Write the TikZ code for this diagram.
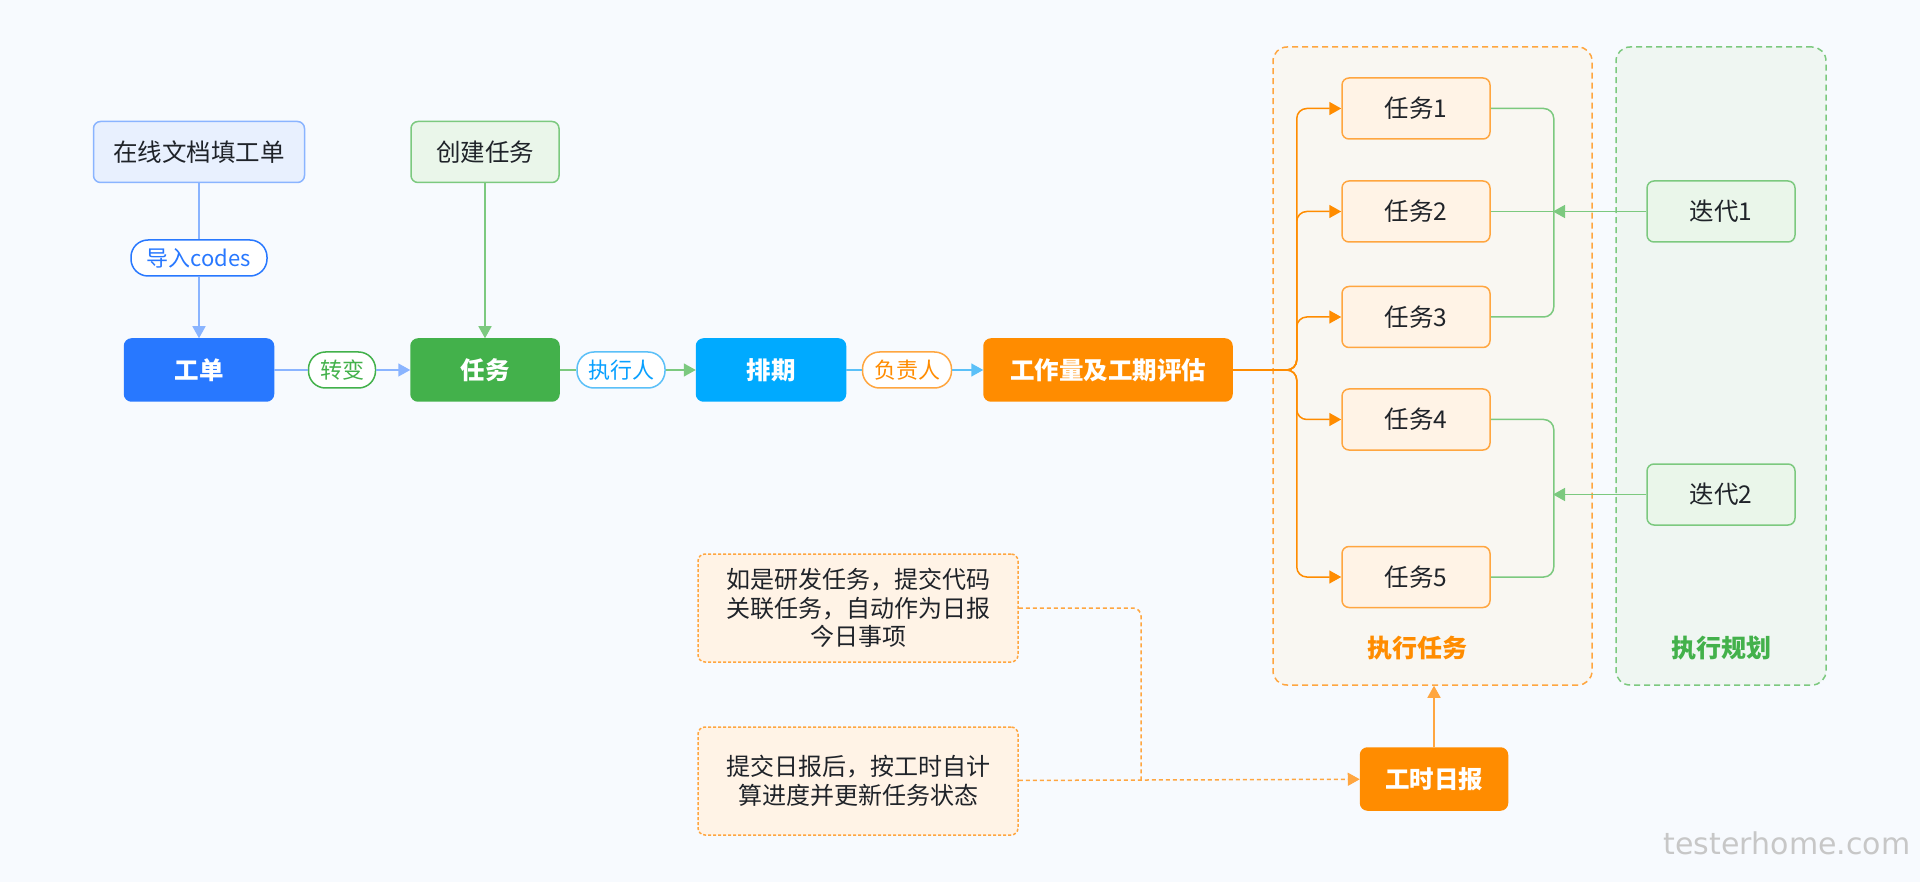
\documentclass[tikz,border=0pt]{standalone}
\usepackage{fontspec}
\setmainfont{Noto Sans CJK SC}
\newfontfamily\markfont{DejaVu Sans}
\usetikzlibrary{arrows.meta,positioning}

\definecolor{paper}{HTML}{F7FAFE}
\definecolor{ink}{HTML}{1F2329}
\definecolor{blueA}{HTML}{2878FF}
\definecolor{blueL}{HTML}{8AB4FF}
\definecolor{blueF}{HTML}{E8F0FE}
\definecolor{greenA}{HTML}{43B14B}
\definecolor{greenL}{HTML}{7CC97F}
\definecolor{greenF}{HTML}{EAF6EA}
\definecolor{skyA}{HTML}{00AAFF}
\definecolor{skyL}{HTML}{5BC0F8}
\definecolor{orangeA}{HTML}{FF8C00}
\definecolor{orangeL}{HTML}{FFA640}
\definecolor{orangeF}{HTML}{FFF3E6}
\definecolor{runfill}{HTML}{F9F7F2}
\definecolor{planfill}{HTML}{EFF6F2}

\tikzset{
  box/.style={rounded corners=7pt, minimum width=148pt, minimum height=61pt,
    inner sep=0pt, line width=1.5pt, text=ink, font=\fontsize{24.5}{28}\selectfont},
  solidbox/.style={box, fill=#1, draw=#1, text=white,
    font=\fontsize{24.5}{28}\selectfont\bfseries},
  lightbox/.style 2 args={box, fill=#1, draw=#2},
  pill/.style={rounded corners=17pt, minimum height=36pt, inner sep=0pt,
    line width=1.5pt, fill=white, draw=#1, text=#1, font=\fontsize{22}{26}\selectfont},
  link/.style={line width=1.5pt, draw=#1},
  tip/.style={-{Triangle[length=12pt,width=13pt]}},
  note/.style={box, fill=orangeF, draw=orangeL, dash pattern=on 3pt off 2pt,
    minimum width=320pt, minimum height=108pt, align=center,
    font=\fontsize{24}{28.5}\selectfont},
  group/.style={rounded corners=14pt, line width=1.5pt, dash pattern=on 6pt off 4pt,
    minimum height=638pt, inner sep=0pt}
}

\begin{document}
\begin{tikzpicture}[x=1pt,y=-1pt]
  \useasboundingbox[fill=paper] (0,0) rectangle (1920,882);

  % groups behind everything
  \node (runbox) [group, draw=orangeL, fill=runfill, minimum width=319pt] at (1432.5,366) {};
  \node (planbox) [group, draw=greenL, fill=planfill, minimum width=210pt] at (1721,366) {};
  \node (runlbl) [text=orangeA, font=\fontsize{25}{28}\selectfont\bfseries] at (1417,648) {执行任务};
  \node (planlbl) [text=greenA, font=\fontsize{25}{28}\selectfont\bfseries] at (1721,648) {执行规划};

  % main row
  \node (doc) [lightbox={blueF}{blueL}, minimum width=211pt] at (199,152) {在线文档填工单};
  \node (imp) [pill=blueA, minimum width=136pt] at (199,258) {导入codes};
  \node (order) [solidbox=blueA, minimum width=149pt, minimum height=62pt] at (199,370) {工单};
  \node (turn) [pill=greenA, minimum width=67pt] at (342,370) {转变};
  \node (create) [lightbox={greenF}{greenL}] at (485,152) {创建任务};
  \node (task) [solidbox=greenA, minimum height=62pt] at (485,370) {任务};
  \node (exec) [pill=skyL, text=skyA!80!blueA, minimum width=88pt] at (621,370) {执行人};
  \node (plan) [solidbox=skyA, minimum width=149pt, minimum height=62pt] at (771,370) {排期};
  \node (owner) [pill=orangeL, text=orangeA, minimum width=89pt] at (907,370) {负责人};
  \node (est) [solidbox=orangeA, minimum width=248pt, minimum height=62pt] at (1108,370) {工作量及工期评估};

  % tasks and iterations
  \node (t1) [lightbox={orangeF}{orangeL}] at (1416,108.5) {任务1};
  \node (t2) [lightbox={orangeF}{orangeL}] at (1416,211.5) {任务2};
  \node (t3) [lightbox={orangeF}{orangeL}] at (1416,317) {任务3};
  \node (t4) [lightbox={orangeF}{orangeL}] at (1416,419.5) {任务4};
  \node (t5) [lightbox={orangeF}{orangeL}] at (1416,577) {任务5};
  \node (it1) [lightbox={greenF}{greenL}] at (1721,211.5) {迭代1};
  \node (it2) [lightbox={greenF}{greenL}] at (1721,494.5) {迭代2};

  % daily report
  \node (noteA) [note] at (858,608) {如是研发任务，提交代码\\关联任务，自动作为日报\\今日事项};
  \node (noteB) [note] at (858,781) {提交日报后，按工时自计\\算进度并更新任务状态};
  \node (daily) [solidbox=orangeA, minimum width=147pt, minimum height=62pt] at (1434,779) {工时日报};

  \coordinate (j1) at (1553,211.5);
  \coordinate (j2) at (1553,494.5);
  \coordinate (mergeA) at (1141,781);

  % connectors
  \draw[link=blueL] (doc) -- (imp);
  \draw[link=blueL, tip] (imp) -- (order);
  \draw[link=blueL] (order) -- (turn);
  \draw[link=blueL, tip] (turn) -- (task);
  \draw[link=greenL, tip] (create) -- (task);
  \draw[link=greenL] (task) -- (exec);
  \draw[link=greenL, tip] (exec) -- (plan);
  \draw[link=skyL] (plan) -- (owner);
  \draw[link=skyL, tip] (owner) -- (est);

  \foreach \t in {t1,t2,t3,t4,t5}
    \draw[link=orangeA, tip, rounded corners=10pt] (est.east) -- ++(64,0) |- (\t.west);

  \draw[link=greenL, rounded corners=10pt] (t1.east) -- ++(63,0) |- (t3.east);
  \draw[link=greenL] (t2.east) -- (j1);
  \draw[link=greenL, tip] (it1) -- (j1);
  \draw[link=greenL, rounded corners=10pt] (t4.east) -- ++(63,0) |- (t5.east);
  \draw[link=greenL, tip] (it2) -- (j2);

  \draw[link=orangeL, dash pattern=on 4pt off 3pt, rounded corners=8pt] (noteA.east) -| (mergeA);
  \draw[link=orangeL, dash pattern=on 4pt off 3pt, tip] (noteB) -- (daily);
  \draw[link=orangeL, tip] (daily) -- (runbox.south -| daily.north);

  \node (mark) [text=black!22, font=\markfont\fontsize{30}{32}\selectfont] at (1787,843) {testerhome.com};
\end{tikzpicture}
\end{document}
